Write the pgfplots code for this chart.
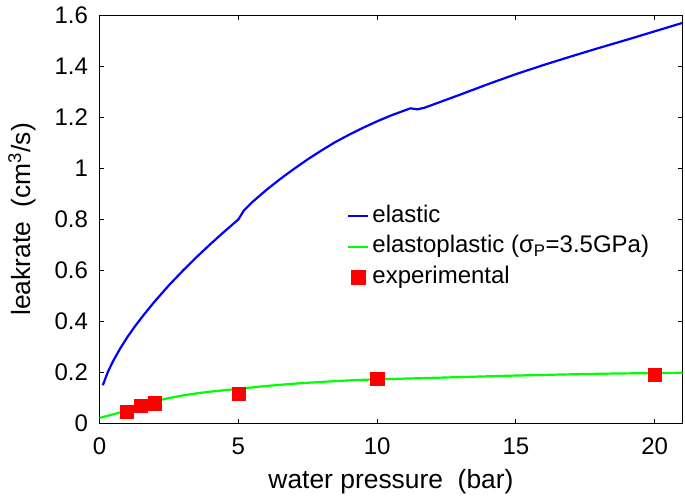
\documentclass[border=0pt]{standalone}
\usepackage{fontspec}
\setmainfont{Liberation Sans}
\usepackage{pgfplots}
\pgfplotsset{compat=1.18}

\pgfplotstableread{
x y
0.12 0.150
0.3 0.202
0.5 0.247
0.75 0.295
1.0 0.338
1.25 0.377
1.5 0.413
1.75 0.447
2.0 0.480
2.5 0.542
3.0 0.599
3.5 0.653
4.0 0.704
4.5 0.753
5.0 0.800
5.2 0.835
5.5 0.868
6.0 0.915
6.5 0.958
7.0 0.998
7.5 1.036
8.0 1.071
8.5 1.104
9.0 1.133
9.5 1.160
10.0 1.185
10.5 1.208
11.0 1.228
11.2 1.236
11.45 1.232
11.7 1.238
12.0 1.250
13.0 1.290
14.0 1.331
15.0 1.370
16.0 1.406
17.0 1.440
18.0 1.473
19.0 1.505
20.0 1.538
21.0 1.571
}\elastic

\pgfplotstableread{
x y
0 0.022
0.5 0.036
1 0.052
2.07 0.089
3 0.110
4 0.125
5 0.136
6 0.147
7 0.156
8 0.163
9 0.169
9.96 0.173
12 0.179
15 0.188
18 0.195
21 0.199
}\plastic

\pgfplotstableread{
x y
0.98 0.047
1.48 0.069
1.99 0.080
5.0 0.116
10.0 0.175
20.0 0.192
}\experimental

\begin{document}
\begin{tikzpicture}[font=\fontsize{24bp}{29bp}\selectfont]
\useasboundingbox (-99.5bp,-72.5bp) rectangle (585.5bp,423.5bp);
\begin{axis}[
  at={(0,0)}, anchor=south west,
  scale only axis, width=583bp, height=408bp,
  xmin=0, xmax=21, ymin=0, ymax=1.6,
  xtick={0,5,10,15,20},
  ytick={0,0.2,0.4,0.6,0.8,1,1.2,1.4,1.6},
  tick align=inside, major tick length=5bp,
  axis line style={line width=1.3bp},
  every tick/.style={black, line width=1.1bp},
  /pgf/number format/assume math mode=true,
  tick label style={font=\fontsize{24bp}{29bp}\selectfont},
  xticklabel style={yshift=-11bp},
  yticklabel style={xshift=-8bp},
  label style={font=\fontsize{26.4bp}{31bp}\selectfont},
  xlabel={water pressure\ \ (bar)},
  ylabel={leakrate\ \ (cm\textsuperscript{3}/s)},
  xlabel style={at={(axis description cs:0.5,-0.1426)}, anchor=center},
  ylabel style={at={(axis description cs:-0.1329,0.5)}, anchor=center},
  legend cell align=left,
  legend style={draw=none, fill=none, at={(0.4245,0.4333)}, anchor=west,
    inner sep=0pt, row sep=0pt,
    nodes={inner sep=3.25bp, text height=18bp, text depth=6bp,
      font=\fontsize{24bp}{29bp}\selectfont}},
]
\addplot[blue, line width=2.2bp, line join=round,
  legend image code/.code={\draw[blue, line width=2bp] (0bp,0bp) -- (20bp,0bp);}]
  table[x=x,y=y] {\elastic};
\addlegendentry{elastic}
\addplot[green, line width=2.2bp, smooth,
  legend image code/.code={\draw[green, line width=2bp] (0bp,0bp) -- (20bp,0bp);}]
  table[x=x,y=y] {\plastic};
\addlegendentry{elastoplastic (σ\textsubscript{P}=3.5GPa)}
\addplot[only marks, mark=square*, mark size=6.6bp, red, mark options={fill=red, draw=red},
  legend image code/.code={\fill[red] (3bp,-7bp) rectangle (17bp,7bp);}]
  table[x=x,y=y] {\experimental};
\addlegendentry{experimental}
\end{axis}
\end{tikzpicture}
\end{document}
